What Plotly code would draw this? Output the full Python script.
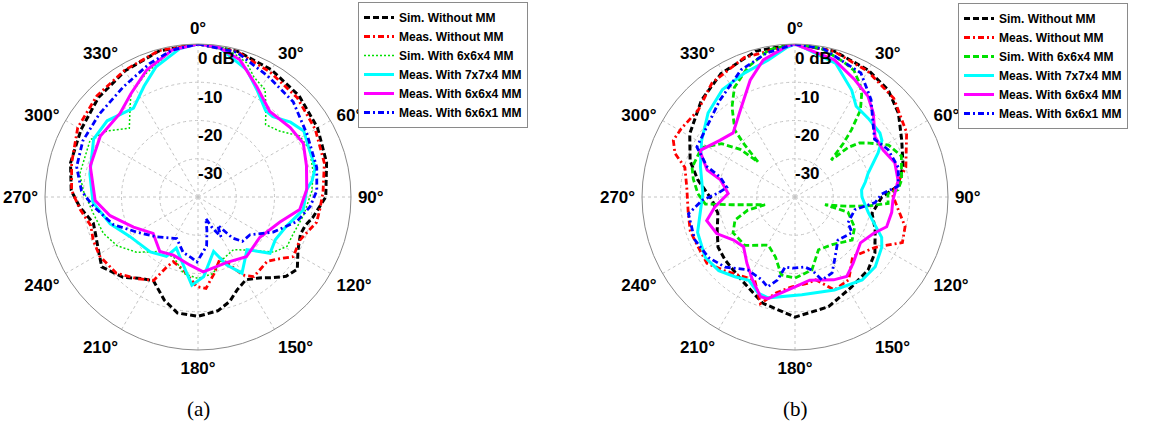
import plotly.graph_objects as go

# ---------------- data (dB vs angle in degrees) ----------------
SERIES_NAMES = ["Sim. Without MM", "Meas. Without MM", "Sim. With 6x6x4 MM",
                "Meas. With 7x7x4 MM", "Meas. With 6x6x4 MM", "Meas. With 6x6x1 MM"]

ANGLE_TICKS = list(range(0, 360, 30))
RADIAL_TICKS = [0, -10, -20, -30]
RADIAL_TEXT = ["0 dB", "-10", "-20", "-30"]
PANEL_LABELS = ["(a)", "(b)"]

# (a)
A_SIM_NO_T = [0,15,30,45,60,75,90,100,105,110,118,126,132,137,143,150,157,163,170,180,190,198,208,215,223,234,242,250,256,265,273,285,300,315,330,345,360]
A_SIM_NO_DB = [0,-0.5,-1.6,-2.6,-3.9,-5.2,-6.6,-9.5,-11,-11.5,-10.4,-7.9,-9,-11.2,-13.5,-15,-13.7,-11.5,-9.8,-8.8,-9.2,-11.6,-15.2,-14,-11.3,-8.9,-10.5,-11.5,-11.8,-9,-6.8,-5.5,-4.7,-3.2,-1.9,-0.5,0]

A_MEAS_NO_T = [0,15,30,45,60,75,88,96,102,113,122,127,133,140,145,150,155,160,168,175,181,191,201,204,208,217,227,239,248,255,264,273,285,300,315,330,345,360]
A_MEAS_NO_DB = [0,-0.6,-2.3,-3.3,-4.6,-5.8,-7.3,-8,-8.3,-11.1,-10.6,-13.2,-15.3,-15,-14.6,-16.4,-20.4,-23,-19.6,-16,-16.6,-20.5,-21.9,-20,-15.3,-13.3,-10.8,-10,-10.4,-11,-9,-6.9,-5.8,-3.7,-2.6,-1.7,-0.4,0]

A_SIM_664_T = [0,11,20,25,32,37,43,51,59,67,78,87,100,111,119,126,134,146,159,169,180,191,202,215,228,239,249,261,273,281,298,306,315,323,327,337,350,360]
A_SIM_664_DB = [0,-0.4,-2.7,-5.4,-6.9,-10.5,-14.1,-12.6,-9,-8.3,-9.2,-10.2,-12,-13.3,-13.4,-15.5,-19.9,-23.4,-22.4,-19.6,-18.7,-19.7,-23.1,-22.6,-18.4,-15.3,-13.5,-12.3,-10,-8.5,-8.1,-10.6,-14.6,-10.5,-7.8,-5,-1,0]

A_MEAS_774_T = [0,8,21,29,38,43,51,58,66,76,82,86,97,108,119,128,137,150,157,164,176,184,197,203,208,221,240,253,267,282,299,310,324,334,342,353,360]
A_MEAS_774_DB = [0,-0.5,-4.4,-8.1,-11.3,-11.3,-8.9,-7.4,-8.3,-8.4,-9.9,-11.5,-12.3,-15.6,-16.9,-16.1,-21.2,-17,-20.7,-25.2,-19.1,-16.9,-23.7,-25.5,-22.4,-21,-19.4,-16,-12.5,-11.1,-8.8,-9,-11.3,-7.8,-4.3,-0.9,0]

A_MEAS_664_T = [0,8,17,28,40,53,63,74,86,97,107,123,141,156,176,187,203,215,231,245,258,268,286,302,317,327,338,350,360]
A_MEAS_664_DB = [0,-0.5,-2.5,-7.3,-10.8,-9.8,-9.1,-10.5,-11.5,-13.2,-17.6,-20.7,-19.9,-21.3,-20.4,-22.1,-23.5,-22.6,-24.9,-21.4,-16.5,-13.1,-10.7,-9.9,-10.1,-7.8,-4.2,-1,0]

A_MEAS_661_T = [0,15,30,45,60,76,87,95,104,115,126,135,140,145,150,155,160,165,170,175,181,186,195,207,226,240,252,265,273,284,296,310,326,340,350,360]
A_MEAS_661_DB = [0,-0.8,-3.5,-4.8,-7.1,-8,-8.9,-10.6,-13.4,-18.3,-23.2,-23.6,-26,-31,-28,-31,-34,-31,-27,-25.5,-23,-24,-25,-27.8,-25,-21.6,-16.7,-12.5,-9.5,-7.3,-6.5,-6.3,-5.2,-2.9,-1,0]

# (b)
B_SIM_NO_T = [0,15,30,41,51,62,74,84,90,102,112,125,135,148,163,180,197,213,228,237,247,258,268,280,289,301,316,329,345,360]
B_SIM_NO_DB = [0,-0.5,-1.7,-2.9,-5.2,-8.4,-10.6,-13,-17.3,-19.4,-17.4,-14.5,-13,-12.2,-10,-8.6,-11,-14.2,-15.4,-16,-17.9,-19.4,-18.3,-14.2,-11,-7.9,-4.8,-2.4,-0.5,0]

B_MEAS_NO_T = [0,15,30,45,60,75,88,97,105,113,122,136,147,157,166,172,182,191,198,206,215,224,233,243,252,262,275,285,290,295,301,312,324,340,360]
B_MEAS_NO_DB = [0,-0.6,-2,-3.5,-6.3,-10,-14.6,-12.8,-10.2,-9.5,-15.2,-18.3,-14.2,-13.6,-17.7,-17.2,-16.5,-14.5,-10.7,-15.9,-14.9,-13.3,-11.2,-11.5,-11.2,-11.8,-11.6,-10.2,-6.6,-4.9,-5.3,-6,-3.1,-1.2,0]

B_SIM_664_T = [0,10,20,25,30,33,37,40,42,44.5,47,50,54,61,69,81,86,88,94,97,100,104.5,106,117,127,142,156,167,180,190,198,209,226,240,249,254.5,255.5,263,265.5,272,280,286,298,306,311,313.5,316,318,325,331,340,350,360]
B_SIM_664_DB = [0,-0.5,-2.5,-3.5,-6,-8,-11.6,-17,-21,-26.5,-21,-18,-16,-12,-10.2,-11.8,-13,-15.7,-15.6,-20.8,-26,-31.9,-25.6,-22.5,-21.3,-24.2,-24.9,-20.4,-18.8,-19.3,-23.5,-25.6,-21.8,-21.3,-23.2,-27.2,-31.9,-23.4,-16.5,-14.6,-13,-12,-12.4,-16.3,-21,-26.7,-21,-16.5,-11.3,-7.3,-3.9,-0.9,0]

B_MEAS_774_T = [0,3,17,28,34,43,53,57,62,72,78,84,90,102,115,120,131,141,157,176,195,201,209,217,226,236,250,260,272,288,301,314,326,338,349,357,360]
B_MEAS_774_DB = [0,-0.8,-3.5,-8.4,-11.4,-11.9,-12.2,-12.9,-15.4,-19.9,-21.2,-22.5,-22.5,-20.4,-15,-13.8,-12.2,-12.1,-13.6,-14.4,-12.7,-13.1,-15.1,-13.9,-12.3,-11.7,-12.9,-14.8,-15.9,-14,-11.5,-8.4,-6.1,-5,-3.5,-0.8,0]

B_MEAS_664_T = [0,16,27,36,43,53,62,71,81,92,99,108,115,125,139,147,155,170,180,195,199,207,216,226,235,245,255,263,273,283,287,296,307,316,328,339,347,357,360]
B_MEAS_664_DB = [0,-2.7,-5.6,-7.5,-10,-13.8,-13.9,-12.4,-12.7,-14.4,-14.4,-14.8,-17.4,-19.1,-16.9,-15.2,-16.1,-17.9,-16.5,-12.5,-12.4,-15.6,-18.6,-21.3,-20.4,-17.4,-16.1,-18.9,-22.5,-20,-16,-12.3,-15.4,-16.7,-13.1,-7.3,-3.2,-0.5,0]

B_MEAS_661_T = [0,11,28,38,45,54,63,74,84,88,94,102,116,122,135,148,154,162,167,172,182,188,192,197,202,213,225,235,247,261,268,273,278,285,289,297,308,322,337,349,360]
B_MEAS_661_DB = [0,-0.6,-3.3,-7.7,-11.3,-14.3,-12.7,-11.9,-12.9,-17.3,-19,-24,-24.6,-22.4,-24.1,-20.5,-17.9,-17.2,-20.4,-21.5,-21.4,-21.5,-17.8,-15.4,-16.7,-17.3,-14.1,-12.4,-11.5,-11.8,-15.7,-19.9,-22,-19.7,-15.7,-11.2,-10.6,-8,-3.9,-1.6,0]

PANEL_A = [(A_SIM_NO_T, A_SIM_NO_DB), (A_MEAS_NO_T, A_MEAS_NO_DB), (A_SIM_664_T, A_SIM_664_DB),
           (A_MEAS_774_T, A_MEAS_774_DB), (A_MEAS_664_T, A_MEAS_664_DB), (A_MEAS_661_T, A_MEAS_661_DB)]
PANEL_B = [(B_SIM_NO_T, B_SIM_NO_DB), (B_MEAS_NO_T, B_MEAS_NO_DB), (B_SIM_664_T, B_SIM_664_DB),
           (B_MEAS_774_T, B_MEAS_774_DB), (B_MEAS_664_T, B_MEAS_664_DB), (B_MEAS_661_T, B_MEAS_661_DB)]

for t, d in PANEL_A + PANEL_B:
    assert len(t) == len(d)

# ---------------- styles ----------------
COLORS = ["#000000", "#ff0000", "#00e000", "#00ffff", "#ff00ff", "#0000ff"]
STYLE_A = [("6px,3px", 3), ("6px,3px,2px,3px", 2.8), ("2px,2px", 1.5),
           ("solid", 3), ("solid", 3), ("6px,3px,2px,3px", 2.8)]
STYLE_B = [("6px,3px", 3), ("6px,3px,2px,3px", 2.8), ("6px,3px", 2.8),
           ("solid", 3), ("solid", 3), ("6px,3px,2px,3px", 2.8)]

W, H = 1149, 423
FONT = "Arial, Liberation Sans, sans-serif"
SERIF = "Liberation Serif, Times New Roman, serif"
LABEL_DROP_DB = 2.0   # radial labels sit a little below their ring

fig = go.Figure()

for panel, styles, sub, leg in [(PANEL_A, STYLE_A, "polar", "legend"),
                                 (PANEL_B, STYLE_B, "polar2", "legend2")]:
    for (t, d), name, col, (dash, wd) in zip(panel, SERIES_NAMES, COLORS, styles):
        fig.add_trace(go.Scatterpolar(
            r=d, theta=t, mode="lines", name=name, subplot=sub, legend=leg,
            line=dict(color=col, width=wd, dash=dash), hoverinfo="skip"))
    fig.add_trace(go.Scatterpolar(
        r=[v - LABEL_DROP_DB for v in RADIAL_TICKS], theta=[0] * len(RADIAL_TICKS),
        text=RADIAL_TEXT, mode="text", textposition="bottom right", subplot=sub,
        showlegend=False, cliponaxis=False, hoverinfo="skip",
        textfont=dict(family=FONT, size=17, color="black", weight="bold")))


def polar_layout(x0, x1):
    return dict(
        domain=dict(x=[x0 / W, x1 / W], y=[(H - 350) / H, (H - 44) / H]),
        bgcolor="white",
        angularaxis=dict(
            rotation=90, direction="clockwise", tickmode="array",
            tickvals=ANGLE_TICKS, ticktext=[f"{v}°" for v in ANGLE_TICKS],
            tickfont=dict(family=FONT, size=17, color="black", weight="bold"),
            showline=True, linecolor="#8a8a8a", linewidth=1,
            ticks="outside", ticklen=3, tickcolor="rgba(0,0,0,0)",
            showgrid=True, gridcolor="#c4c4c4", griddash="dot", gridwidth=1),
        radialaxis=dict(
            range=[-40, 0], tickvals=[-30, -20, -10], showticklabels=False, ticks="",
            showline=False, showgrid=True, gridcolor="#c4c4c4", griddash="dot",
            gridwidth=1, angle=90),
    )


legend_style = dict(xanchor="left", yanchor="top", bordercolor="#8a8a8a", borderwidth=1,
                    bgcolor="white", itemwidth=30, tracegroupgap=0,
                    font=dict(family=FONT, size=12, color="black", weight="bold"))

fig.update_layout(
    width=W, height=H, margin=dict(l=0, r=0, t=0, b=0),
    paper_bgcolor="white", plot_bgcolor="white",
    polar=polar_layout(45, 351), polar2=polar_layout(642, 948),
    legend=dict(x=358 / W, y=1 - 2 / H, **legend_style),
    legend2=dict(x=958 / W, y=1 - 3 / H, **legend_style),
    annotations=[
        dict(text=PANEL_LABELS[0], x=198 / W, y=(H - 409) / H, xref="paper", yref="paper",
             xanchor="center", yanchor="middle", showarrow=False,
             font=dict(family=SERIF, size=21, color="black")),
        dict(text=PANEL_LABELS[1], x=795 / W, y=(H - 409) / H, xref="paper", yref="paper",
             xanchor="center", yanchor="middle", showarrow=False,
             font=dict(family=SERIF, size=21, color="black")),
    ],
)

fig.write_html("out.html", config={"displayModeBar": False},
               post_script="document.body.style.margin='0px';document.body.style.overflow='hidden';")
